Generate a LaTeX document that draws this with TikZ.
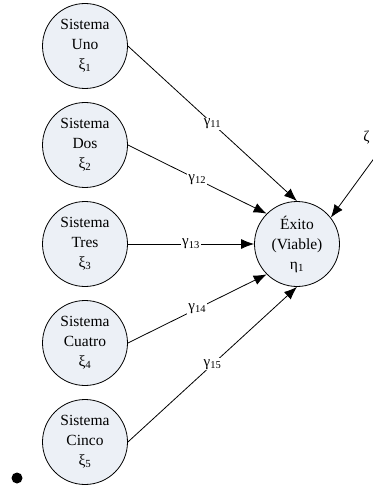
\documentclass[tikz,border=0pt]{standalone}
\usepackage{fontspec}
\setmainfont{Liberation Serif}
\usetikzlibrary{arrows.meta, positioning}
\definecolor{latfill}{RGB}{236, 240, 246}

\begin{document}
\begin{tikzpicture}[x=1pt, y=-1pt,
  lat/.style={circle, draw=black, fill=latfill, line width=0.8pt,
              minimum size=85pt, inner sep=0pt, align=center,
              font=\fontsize{15.5}{20}\selectfont},
  coef/.style={fill=white, inner sep=1pt, font=\fontsize{15}{15}\selectfont},
  arr/.style={-{Latex[length=13pt, width=10pt]}, line width=0.8pt}
]
  \useasboundingbox (0,0) rectangle (372,486);

  \node[lat] (xi1) at (85,46)  {Sistema\\Uno\\ξ\textsubscript{1}};
  \node[lat] (xi2) at (85,145) {Sistema\\Dos\\ξ\textsubscript{2}};
  \node[lat] (xi3) at (85,244) {Sistema\\Tres\\ξ\textsubscript{3}};
  \node[lat] (xi4) at (85,343) {Sistema\\Cuatro\\ξ\textsubscript{4}};
  \node[lat] (xi5) at (85,442) {Sistema\\Cinco\\ξ\textsubscript{5}};

  \node[lat] (eta) at (297,244) {Éxito\\(Viable)\\η\textsubscript{1}};

  \node[font=\fontsize{15}{15}\selectfont, inner sep=1pt] (zeta) at (366.5,138) {ζ};
  \coordinate (zin) at (386,142);

  \node[circle, fill=black, inner sep=0pt, minimum size=11pt] (dot) at (17,478) {};

  \draw[arr] (xi1.east) -- node[coef] {γ\textsubscript{11}} (eta.north);
  \draw[arr] (xi2.east) -- node[coef] {γ\textsubscript{12}} (eta.135);
  \draw[arr] (xi3.east) -- node[coef] {γ\textsubscript{13}} (eta.west);
  \draw[arr] (xi4.east) -- node[coef] {γ\textsubscript{14}} (eta.225);
  \draw[arr] (xi5.east) -- node[coef] {γ\textsubscript{15}} (eta.south);
  \draw[arr] (zin) -- (eta.38);
\end{tikzpicture}
\end{document}
